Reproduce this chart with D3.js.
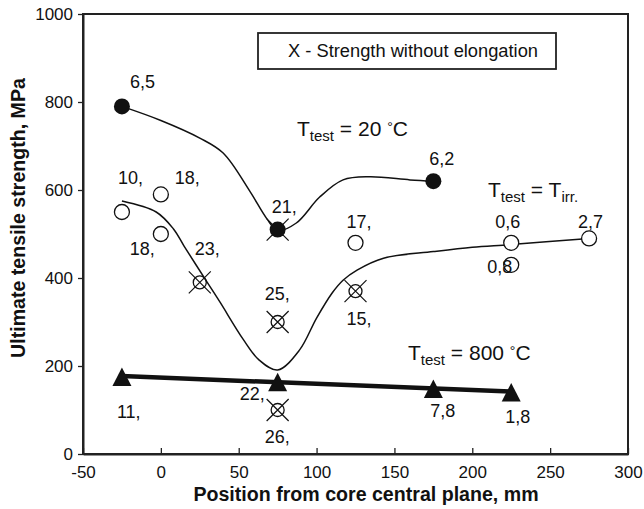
<!DOCTYPE html>
<html>
<head>
<meta charset="utf-8">
<script src="https://cdn.jsdelivr.net/npm/d3@7"></script>
<style>
  body { margin: 0; background: #fff; }
  text { font-family: "Liberation Sans", Arial, sans-serif; fill: #111; }
</style>
</head>
<body>
<script>
const width = 644;
const height = 509;

// Data
const xTicks = [-50, 0, 50, 100, 150, 200, 250, 300];
const yTicks = [0, 200, 400, 600, 800, 1000];

// T_test = 20 C (filled circles)
const room = [
  { x: -25, y: 790, label: "6,5", noElong: false },
  { x: 75, y: 510, label: "21,", noElong: true },
  { x: 175, y: 620, label: "6,2", noElong: false }
];
// T_test = T_irr (open circles)
const irr = [
  { x: -25, y: 550, label: "10,", noElong: false },
  { x: 0, y: 590, label: "18,", noElong: false },
  { x: 0, y: 500, label: "18,", noElong: false },
  { x: 25, y: 390, label: "23,", noElong: true },
  { x: 75, y: 300, label: "25,", noElong: true },
  { x: 75, y: 100, label: "26,", noElong: true },
  { x: 125, y: 480, label: "17,", noElong: false },
  { x: 125, y: 370, label: "15,", noElong: true },
  { x: 225, y: 480, label: "0,6", noElong: false },
  { x: 225, y: 430, label: "0,8", noElong: false },
  { x: 275, y: 490, label: "2,7", noElong: false }
];
// T_test = 800 C (triangles)
const hot = [
  { x: -25, y: 175, label: "11,", noElong: false },
  { x: 75, y: 163, label: "22,", noElong: false },
  { x: 175, y: 148, label: "7,8", noElong: false },
  { x: 225, y: 140, label: "1,8", noElong: false }
];

// hand-drawn trend curves
const fitRoom = [[-25, 790], [0, 758], [25, 718], [40, 684], [57, 598], [68, 535], [75, 508],
  [87, 525], [102, 584], [117, 623], [134, 630], [160, 623], [175, 620]];
const fitIrr = [[-25, 575], [-3, 550], [8, 512], [15, 472], [30, 389], [38, 345], [53, 260],
  [63, 214], [75, 191], [89, 236], [100, 309], [110, 366], [117, 395], [126, 418],
  [143, 445], [175, 460], [200, 470], [225, 476], [275, 490]];
const fitHot = [[-25, 177], [225, 142]];

// label offsets in px (x, baseline) relative to each marker
const roomOff = [[8, -18], [-6, -17], [-4, -16]];
const irrOff = [[-4, -28], [14, -10], [-31, 21], [-5, -27], [-13, -22], [-13, 33],
  [-9, -15], [-9, 34], [-16, -15], [-24, 8], [-11, -10]];
const hotOff = [[-5, 41], [-38, 18], [-3, 28], [-6, 31]];

const margin = { left: 83, top: 14, right: 16, bottom: 55 };
const plotW = width - margin.left - margin.right;
const plotH = height - margin.top - margin.bottom;

const x = d3.scaleLinear().domain([-50, 300]).range([margin.left, margin.left + plotW]);
const y = d3.scaleLinear().domain([0, 1000]).range([margin.top + plotH, margin.top]);

const svg = d3.select("body").append("svg")
  .attr("width", width)
  .attr("height", height);

// Frame
svg.append("rect")
  .attr("x", margin.left).attr("y", margin.top)
  .attr("width", plotW).attr("height", plotH)
  .attr("fill", "none").attr("stroke", "#222").attr("stroke-width", 2);

// x axis, ticks pointing inward
const xAxis = svg.append("g")
  .attr("transform", `translate(0,${margin.top + plotH})`)
  .call(d3.axisBottom(x).tickValues(xTicks).tickFormat(d => String(d))
    .tickSizeInner(-6).tickSizeOuter(0).tickPadding(12));
// y axis, ticks pointing outward
const yAxis = svg.append("g")
  .attr("transform", `translate(${margin.left},0)`)
  .call(d3.axisLeft(y).tickValues(yTicks).tickFormat(d => String(d))
    .tickSizeInner(5).tickSizeOuter(0).tickPadding(5));

[xAxis, yAxis].forEach(a => {
  a.select(".domain").attr("stroke", "#222").attr("stroke-width", 2);
  a.selectAll(".tick line").attr("stroke", "#222").attr("stroke-width", 1.3);
  a.selectAll(".tick text").attr("font-size", 17).attr("font-family", "Liberation Sans, Arial, sans-serif").attr("fill", "#111");
});

// Axis titles
svg.append("text")
  .attr("x", 366).attr("y", 501)
  .attr("text-anchor", "middle")
  .attr("font-size", 19.6).attr("font-weight", "bold")
  .text("Position from core central plane, mm");

svg.append("text")
  .attr("transform", "translate(25,218) rotate(-90)")
  .attr("text-anchor", "middle")
  .attr("font-size", 19.6).attr("font-weight", "bold")
  .text("Ultimate tensile strength, MPa");

// Legend box
svg.append("rect")
  .attr("x", 258).attr("y", 33).attr("width", 298).attr("height", 36)
  .attr("fill", "#fff").attr("stroke", "#222").attr("stroke-width", 1.8);
svg.append("text")
  .attr("x", 288).attr("y", 57)
  .attr("font-size", 18.3)
  .text("X - Strength without elongation");

// Curves
const curve = d3.line()
  .x(d => x(d[0]))
  .y(d => y(d[1]))
  .curve(d3.curveCatmullRom.alpha(0.5));

svg.append("path").datum(fitRoom)
  .attr("d", curve).attr("fill", "none").attr("stroke", "#111").attr("stroke-width", 1.5);
svg.append("path").datum(fitIrr)
  .attr("d", curve).attr("fill", "none").attr("stroke", "#111").attr("stroke-width", 1.5);
svg.append("path").datum(fitHot)
  .attr("d", d3.line().x(d => x(d[0])).y(d => y(d[1])))
  .attr("fill", "none").attr("stroke", "#111").attr("stroke-width", 4.5);

// X crosses for strength without elongation
function drawCrosses(data) {
  const c = svg.append("g").selectAll("g")
    .data(data.filter(d => d.noElong))
    .enter().append("g")
    .attr("transform", d => `translate(${x(d.x)},${y(d.y)})`);
  c.append("path")
    .attr("d", "M-11,-11L11,11M11,-11L-11,11")
    .attr("stroke", "#111").attr("stroke-width", 1.2);
}

// Markers
svg.append("g").selectAll("circle")
  .data(irr).enter().append("circle")
  .attr("cx", d => x(d.x)).attr("cy", d => y(d.y))
  .attr("r", d => d.noElong ? 6.5 : 7.5)
  .attr("fill", d => d.noElong ? "none" : "#fff")
  .attr("stroke", "#111").attr("stroke-width", 1.3);
drawCrosses(irr);

drawCrosses(room);
svg.append("g").selectAll("circle")
  .data(room).enter().append("circle")
  .attr("cx", d => x(d.x)).attr("cy", d => y(d.y))
  .attr("r", 8)
  .attr("fill", "#111");

svg.append("g").selectAll("path")
  .data(hot).enter().append("path")
  .attr("transform", d => `translate(${x(d.x)},${y(d.y)})`)
  .attr("d", "M0,-9.5L9.5,9L-9.5,9Z")
  .attr("fill", "#111");

// Point labels
function drawLabels(data, off) {
  svg.append("g").selectAll("text")
    .data(data).enter().append("text")
    .attr("x", (d, i) => x(d.x) + off[i][0])
    .attr("y", (d, i) => y(d.y) + off[i][1])
    .attr("font-size", 18)
    .text(d => d.label);
}
drawLabels(room, roomOff);
drawLabels(irr, irrOff);
drawLabels(hot, hotOff);

// Series annotations: T_test = ...
function annotate(px, py, value, sub2) {
  const t = svg.append("text").attr("x", px).attr("y", py).attr("font-size", 21);
  t.append("tspan").text("T");
  t.append("tspan").attr("font-size", 15).attr("dy", 5).text("test");
  if (sub2) {
    t.append("tspan").attr("dy", -5).text(" = T");
    t.append("tspan").attr("font-size", 15).attr("dy", 5).text(sub2);
  } else {
    t.append("tspan").attr("dy", -5).text(" = " + value + " ");
    t.append("tspan").attr("font-size", 14).attr("dy", -4).text("\u00B0");
    t.append("tspan").attr("dy", 4).text("C");
  }
}
annotate(297, 136, "20");
annotate(488, 197, null, "irr.");
annotate(408, 360, "800");
</script>
</body>
</html>
